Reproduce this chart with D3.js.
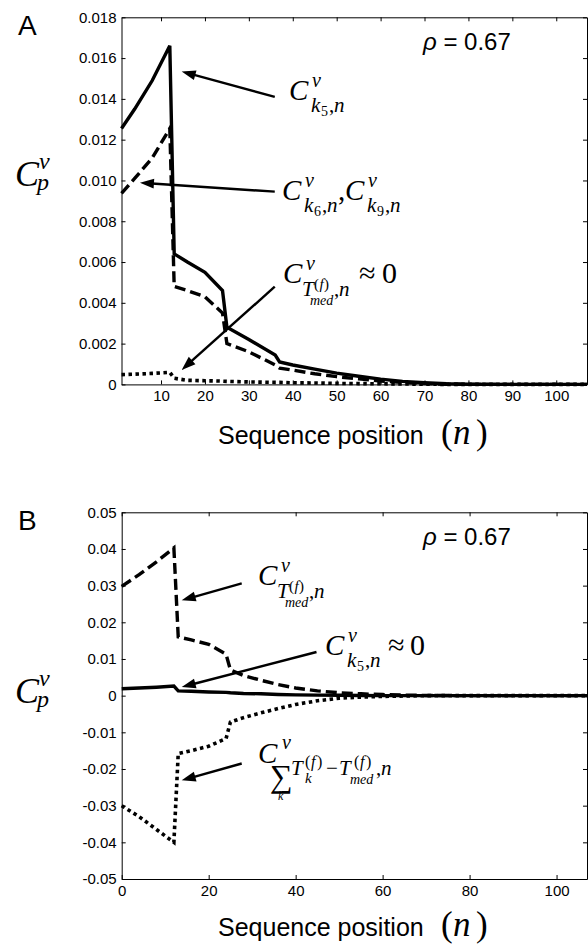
<!DOCTYPE html>
<html>
<head>
  <meta charset="utf-8">
  <script src="https://d3js.org/d3.v7.min.js"></script>
  <style>
    body { margin: 0; background: #fff; }
    .axis text { font: 15px "Liberation Sans", Arial, sans-serif; fill: #000; }
    .axis path, .axis line { stroke: #000; stroke-width: 1; }
    .sans { font-family: "Liberation Sans", Arial, sans-serif; }
    .serif { font-family: "Liberation Serif", "Times New Roman", serif; }
  </style>
</head>
<body>
<svg id="chart" width="588" height="945"></svg>
<script>
  // ---- panel A data ----
  var posA = [1, 4, 8, 12, 13, 16, 20, 24, 25, 30, 36, 37, 40, 45, 50, 55, 60, 65, 70, 75, 80, 90, 100, 107];
  var k5A = [0.01255, 0.0135, 0.0149, 0.0166, 0.0064, 0.0060, 0.0055, 0.0046, 0.0028, 0.0022, 0.00144, 0.0011, 0.00095, 0.00075, 0.00055, 0.0004, 0.00026, 0.00015, 0.00008, 0.00003, 0.00001, 0, 0, 0];
  var k6k9A = [0.00937, 0.0101, 0.0111, 0.01255, 0.0048, 0.0046, 0.0043, 0.0035, 0.0020, 0.0016, 0.00095, 0.0008, 0.0007, 0.00052, 0.00038, 0.00027, 0.00017, 0.0001, 0.00004, 0.00001, 0, 0, 0, 0];
  var tmedA = [0.00048, 0.0005, 0.00054, 0.00059, 0.0003, 0.0002, 0.00018, 0.00016, 0.00015, 0.00012, 0.0001, 0.0001, 0.00008, 0.00007, 0.00005, 0.00004, 0.00003, 0.00002, 0.00001, 0, 0, 0, 0, 0];
  var xTicksA = [10, 20, 30, 40, 50, 60, 70, 80, 90, 100];
  var yTicksA = [0, 0.002, 0.004, 0.006, 0.008, 0.010, 0.012, 0.014, 0.016, 0.018];

  // ---- panel B data ----
  var posB = [0, 4, 8, 12, 13, 16, 20, 24, 25, 28, 32, 36, 40, 45, 50, 55, 60, 65, 70, 80, 90, 100, 107];
  var tmedB = [0.0298, 0.0330, 0.0365, 0.0403, 0.0160, 0.0152, 0.0140, 0.0113, 0.0070, 0.0055, 0.0042, 0.0030, 0.0021, 0.0013, 0.0008, 0.0005, 0.0003, 0.00015, 0.00005, 0, 0, 0, 0];
  var k5B = [0.0019, 0.0021, 0.0023, 0.0026, 0.0013, 0.0012, 0.0010, 0.0009, 0.0008, 0.0006, 0.0005, 0.0003, 0.0002, 0.00015, 0.0001, 0.00005, 0, 0, 0, 0, 0, 0, 0];
  var sumB = [-0.0300, -0.0330, -0.0365, -0.0400, -0.0158, -0.0150, -0.0138, -0.0117, -0.0072, -0.0060, -0.0047, -0.0035, -0.0024, -0.0014, -0.0007, -0.0004, -0.0002, -0.0001, 0, 0, 0, 0, 0];
  var xTicksB = [0, 20, 40, 60, 80, 100];
  var yTicksB = [-0.05, -0.04, -0.03, -0.02, -0.01, 0, 0.01, 0.02, 0.03, 0.04, 0.05];

  // arrows: [tail n, tail value, tip n, tip value]
  var arrowsA = [[35.9, 0.0141, 14.7, 0.01534], [35.9, 0.00945, 5.2, 0.00989], [35.9, 0.00479, 14.7, 0.00071]];
  var arrowsB = [[27.6, 0.0306, 13.8, 0.026], [44.8, 0.0119, 13.8, 0.00235], [27.6, -0.0185, 13.8, -0.0231]];

  var svg = d3.select("#chart");

  // math label: one text, pieces = [text, dx, dy, size, italic]
  function mathLabel(x0, y0, pieces) {
    var t = svg.append("text").attr("class", "serif");
    pieces.forEach(function (p) {
      t.append("tspan")
        .attr("x", x0 + p[1]).attr("y", y0 + p[2])
        .attr("font-size", p[3])
        .attr("font-style", p[4] ? "italic" : "normal")
        .text(p[0]);
    });
  }

  function drawPanel(cfg) {
    var w = cfg.right - cfg.left, h = cfg.bottom - cfg.top;
    var g = svg.append("g").attr("transform", "translate(" + cfg.left + "," + cfg.top + ")");

    var x = d3.scaleLinear().domain(cfg.xDomain).range([0, w]);
    var y = d3.scaleLinear().domain(cfg.yDomain).range([h, 0]);

    g.append("g").attr("class", "axis")
      .attr("transform", "translate(0," + h + ")")
      .call(d3.axisBottom(x).tickValues(cfg.xTicks).tickSize(-4).tickSizeOuter(0).tickPadding(6));
    g.append("g").attr("class", "axis")
      .call(d3.axisTop(x).tickValues(cfg.xTicks).tickSize(-4).tickSizeOuter(0).tickFormat(""));
    g.append("g").attr("class", "axis")
      .call(d3.axisLeft(y).tickValues(cfg.yTicks).tickSize(-4).tickSizeOuter(0).tickPadding(5).tickFormat(cfg.yFormat));
    g.append("g").attr("class", "axis")
      .attr("transform", "translate(" + w + ",0)")
      .call(d3.axisRight(y).tickValues(cfg.yTicks).tickSize(-4).tickSizeOuter(0).tickFormat(""));

    var line = d3.line()
      .x(function (d) { return x(d[0]); })
      .y(function (d) { return y(d[1]); });

    cfg.series.forEach(function (s) {
      g.append("path")
        .datum(d3.zip(s.pos, s.values))
        .attr("d", line)
        .attr("fill", "none")
        .attr("stroke", "#000")
        .attr("stroke-width", s.width)
        .attr("stroke-dasharray", s.dash)
        .attr("stroke-linejoin", "miter");
    });

    // arrows
    cfg.arrows.forEach(function (a) {
      var x1 = x(a[0]), y1 = y(a[1]), x2 = x(a[2]), y2 = y(a[3]);
      var dx = x2 - x1, dy = y2 - y1, len = Math.sqrt(dx * dx + dy * dy);
      var ux = dx / len, uy = dy / len, hl = 14, hw = 5;
      var bx = x2 - ux * hl, by = y2 - uy * hl;
      g.append("line")
        .attr("x1", x1).attr("y1", y1).attr("x2", bx + ux * 2).attr("y2", by + uy * 2)
        .attr("stroke", "#000").attr("stroke-width", 2.4);
      g.append("path")
        .attr("d", "M" + x2 + "," + y2 +
          "L" + (bx - uy * hw) + "," + (by + ux * hw) +
          "L" + (bx + uy * hw) + "," + (by - ux * hw) + "Z")
        .attr("fill", "#000");
    });

    // panel letter and rho
    svg.append("text").attr("class", "sans").attr("x", 18).attr("y", cfg.top + 18)
      .attr("font-size", 28).text(cfg.letter);
    var rho = svg.append("text").attr("class", "sans").attr("x", 423).attr("y", cfg.top + 33)
      .attr("font-size", 24);
    rho.append("tspan").attr("font-style", "italic").text("\u03C1");
    rho.append("tspan").text(" = 0.67");

    // x label
    svg.append("text").attr("class", "sans").attr("x", 218).attr("y", cfg.bottom + cfg.xLabelDy)
      .attr("font-size", 25).text("Sequence position");
    mathLabel(441, cfg.bottom + cfg.xLabelDy, [["(", 0, 0, 35, 0], ["n", 12, 0, 35, 1], [")", 35, 0, 35, 0]]);

    // y label
    mathLabel(15, cfg.yLabelY, [["C", 0, 0, 36, 1], ["v", 24, -17, 24, 1], ["p", 22, 4, 24, 1]]);
  }

  var yFmtA = function (d) { return d === 0 ? "0" : d3.format(".3f")(d); };
  var yFmtB = function (d) { return d === 0 ? "0" : d3.format(".2f")(d).replace("\u2212", "-"); };

  drawPanel({
    letter: "A", left: 121.5, right: 587, top: 17.3, bottom: 384.4,
    xDomain: [1, 107], yDomain: [0, 0.018], xTicks: xTicksA, yTicks: yTicksA, yFormat: yFmtA,
    yLabelY: 186, xLabelDy: 60,
    series: [
      { pos: posA, values: k5A, width: 3.4, dash: null },
      { pos: posA, values: k6k9A, width: 3.4, dash: "11,5" },
      { pos: posA, values: tmedA, width: 3.6, dash: "3.5,3.5" }
    ],
    arrows: arrowsA
  });

  drawPanel({
    letter: "B", left: 121.7, right: 587, top: 512.3, bottom: 879,
    xDomain: [0, 107], yDomain: [-0.05, 0.05], xTicks: xTicksB, yTicks: yTicksB, yFormat: yFmtB,
    yLabelY: 703, xLabelDy: 57,
    series: [
      { pos: posB, values: tmedB, width: 3.4, dash: "11,5" },
      { pos: posB, values: k5B, width: 3.4, dash: null },
      { pos: posB, values: sumB, width: 3.6, dash: "3.5,3.5" }
    ],
    arrows: arrowsB
  });

  // ---- annotation labels ----
  var subK = function (digit) {
    return [["C", 0, 0, 29, 1], ["v", 23, -13, 20, 1], ["k", 22, 12, 21, 1], [digit, 32, 16, 14, 0], [",", 40, 12, 21, 0], ["n", 45, 12, 21, 1]];
  };
  var subTmed = [["C", 0, 0, 29, 1], ["v", 23, -13, 20, 1], ["T", 19, 13, 21, 1],
    ["(", 31, 6, 15, 0], ["f", 36.5, 6, 15, 1], [")", 41, 6, 15, 0], ["med", 27, 22, 14, 1],
    [",", 51, 13, 21, 0], ["n", 56, 13, 21, 1]];
  function shift(pieces, dx) { return pieces.map(function (p) { return [p[0], p[1] + dx, p[2], p[3], p[4]]; }); }

  mathLabel(289, 100, subK("5"));
  mathLabel(282, 200, subK("6").concat([[",", 56, 0, 29, 0]]).concat(shift(subK("9"), 63)));
  mathLabel(283, 283, subTmed.concat([["\u2248", 76, 0, 30, 0], ["0", 99, 0, 30, 0]]));

  mathLabel(258, 585, subTmed);
  mathLabel(325, 655, subK("5").concat([["\u2248", 63, 0, 30, 0], ["0", 85, 0, 30, 0]]));
  mathLabel(258, 763, [["C", 0, 0, 29, 1], ["v", 24, -14, 20, 1], ["\u2211", 12, 24, 32, 0], ["k", 20, 37, 12, 1],
    ["T", 33, 12, 21, 1], ["(", 47, 4, 16, 0], ["f", 53, 4, 16, 1], [")", 59, 4, 16, 0], ["k", 47, 20, 15, 1],
    ["\u2212", 68, 12, 21, 0], ["T", 81, 12, 21, 1], ["(", 96, 4, 16, 0], ["f", 102, 4, 16, 1], [")", 108, 4, 16, 0],
    ["med", 92, 21, 14, 1], [",", 118, 12, 21, 0], ["n", 123, 12, 21, 1]]);
</script>
</body>
</html>
